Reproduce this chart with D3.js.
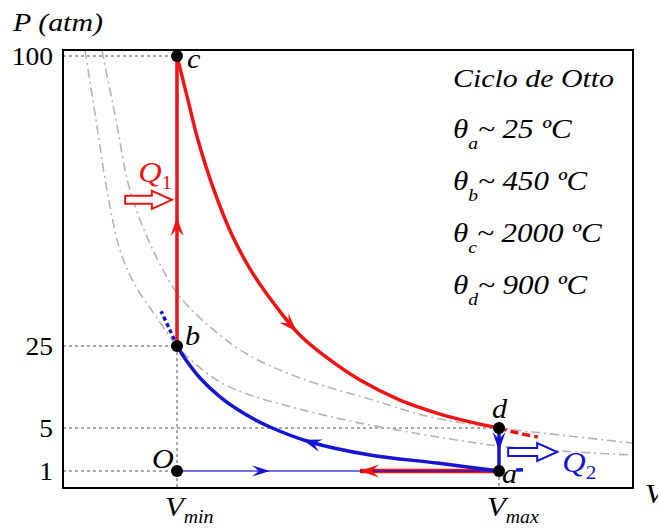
<!DOCTYPE html>
<html>
<head>
<meta charset="utf-8">
<script src="https://cdn.jsdelivr.net/npm/d3@7"></script>
<style>
  body { margin: 0; background: #fff; }
  text { font-family: "Liberation Serif", "Times New Roman", serif; }
</style>
</head>
<body>
<svg id="chart" width="658" height="530"></svg>
<script>
// ---- data (V in arbitrary units, P in atm) ----
var Vmin = 2, Vmax = 7.649;
var pTicks = [1, 5, 25, 100];
var pTickLabels = ["1", "5", "25", "100"];

var states = [
    { id: "O", v: 2, p: 1 },
    { id: "a", v: 7.649, p: 1 },
    { id: "b", v: 2, p: 25 },
    { id: "c", v: 2, p: 100 },
    { id: "d", v: 7.649, p: 5 }
];

// isochore b -> c (heat in)
var isochoreBC = [[2, 25], [2, 100]];
// adiabat c -> d (expansion)
var adiabatCD = [[2, 100], [2.193, 88.6], [2.368, 78.3], [2.649, 65.3], [2.965, 53.7], [3.316, 44.1],
    [3.719, 35.6], [4.158, 27.8], [4.684, 21.6], [5.211, 16.7], [5.912, 11.8], [6.614, 8.4],
    [7.14, 6.5], [7.649, 5]];
// isochore d -> a (heat out)
var isochoreDA = [[7.649, 5], [7.649, 1]];
// adiabat a -> b (compression)
var adiabatAB = [[7.649, 1], [6.561, 1.74], [5.386, 2.49], [4.333, 3.7], [3.632, 5.24], [3.193, 8.4],
    [2.754, 12.6], [2.404, 17.2], [2.158, 21.6], [2, 25]];
// isobar O -> a (intake) and a -> O (exhaust)
var isobarOA = [[2, 1], [7.649, 1]];
var isobarAO = [[7.649, 1], [5.21, 1]];

// dashed continuations
var extB = [[2, 25], [1.877, 29.1], [1.72, 34]];
var extD = [[7.649, 5], [7.98, 4.53], [8.33, 4.16]];
var extA = [[7.95, 1.1], [8.07, 1.12]];

// isotherms (grey dash-dot)
var isoThetaD = [[0.684, 101.5], [0.93, 83.4], [1.175, 65.3], [1.579, 49.8], [2.053, 37.7], [2.754, 27.8],
    [3.281, 22.6], [4.158, 17.2], [5.439, 11.8], [6.439, 7.7], [7.649, 5], [8.719, 4.35], [10, 3.6]];
var isoThetaB = [[0.386, 101.5], [0.579, 83.4], [0.772, 65.3], [1.0, 49.8], [1.263, 40.8], [1.614, 33.0],
    [2, 25], [2.228, 21.8], [2.754, 16.2], [3.281, 13.05], [4.211, 9.4], [5.035, 6.7], [5.965, 4.72],
    [6.789, 3.98], [7.649, 3.33], [9.298, 2.67], [10, 2.49]];

// direction arrows: which segment, along which axis, at which value
var arrowMarks = [
    { seg: "bc", axis: "P", at: 58.4 },
    { seg: "cd", axis: "V", at: 4.1 },
    { seg: "da", axis: "P", at: 2.86 },
    { seg: "ab", axis: "V", at: 4.21 },
    { seg: "oa", axis: "V", at: 3.63 },
    { seg: "ao", axis: "V", at: 5.21 }
];

// heat arrows
var heatIn = { v0: 1.09, v1: 1.91, p: 62.8 };
var heatOut = { v0: 7.81, v1: 8.67, p: 2.77 };

var thetaSub = ["a", "b", "c", "d"];
var thetaVal = ["25", "450", "2000", "900"];

// ---- layout ----
var RED = "#f01414", BLUE = "#1414d2", GREY = "#b4b4b4", DOT = "#8c8c8c";
var plotTop = 50, plotBottom = 488;
var svg = d3.select("#chart");

var xs = d3.scaleLinear().domain([0, 10]).range([63, 633]);
var ys = d3.scaleLinear().domain([1, 5, 25, 100]).range([471, 428, 346, 56]);

var line = d3.line()
    .x(function (d) { return xs(d[0]); })
    .y(function (d) { return ys(d[1]); });
var smooth = d3.line()
    .curve(d3.curveCatmullRom.alpha(0.5))
    .x(function (d) { return xs(d[0]); })
    .y(function (d) { return ys(d[1]); });

svg.append("clipPath").attr("id", "plot")
    .append("rect")
    .attr("x", xs.range()[0]).attr("y", plotTop)
    .attr("width", xs.range()[1] - xs.range()[0]).attr("height", plotBottom - plotTop);

// dotted reference lines
var grid = svg.append("g")
    .attr("stroke", DOT).attr("stroke-width", 1.5).attr("stroke-dasharray", "3,3").attr("fill", "none");
[["c", 100], ["b", 25], ["d", 5], ["O", 1]].forEach(function (r) {
    var s = states.filter(function (d) { return d.id === r[0]; })[0];
    grid.append("line")
        .attr("x1", xs.range()[0]).attr("x2", xs(s.v))
        .attr("y1", ys(r[1])).attr("y2", ys(r[1]));
});
grid.append("line").attr("x1", xs(Vmin)).attr("x2", xs(Vmin)).attr("y1", ys(25)).attr("y2", plotBottom);
grid.append("line").attr("x1", xs(Vmax)).attr("x2", xs(Vmax)).attr("y1", ys(1)).attr("y2", plotBottom);

// isotherms
var iso = svg.append("g").attr("clip-path", "url(#plot)");
[isoThetaD, isoThetaB].forEach(function (d) {
    iso.append("path")
        .attr("d", smooth(d))
        .attr("fill", "none")
        .attr("stroke", GREY)
        .attr("stroke-width", 1.6)
        .attr("stroke-dasharray", "9,4,2,4");
});

// cycle
var paths = {};
function seg(key, data, gen, color, width, opacity) {
    paths[key] = svg.append("path")
        .attr("d", gen(data))
        .attr("fill", "none")
        .attr("stroke", color)
        .attr("stroke-width", width)
        .attr("stroke-opacity", opacity || 1)
        .attr("stroke-linecap", "butt");
    return paths[key];
}
seg("ao", isobarAO, line, RED, 4.5);
seg("oa", isobarOA, line, BLUE, 2, 0.6);
seg("bc", isochoreBC, line, RED, 3.5);
seg("cd", adiabatCD, smooth, RED, 3.5);
seg("da", isochoreDA, line, BLUE, 3.5);
seg("ab", adiabatAB, smooth, BLUE, 3.5);

seg("eb", extB, smooth, BLUE, 3.5).attr("stroke-dasharray", "4,3");
seg("ed", extD, smooth, RED, 3.5).attr("stroke-dasharray", "8,4");
seg("ea", extA, line, BLUE, 3.5);

function locate(node, axis, value) {
    var total = node.getTotalLength(), best = 0, bestD = Infinity;
    var target = axis === "V" ? xs(value) : ys(value);
    for (var l = 0; l <= total; l += 0.5) {
        var pt = node.getPointAtLength(l);
        var dd = Math.abs((axis === "V" ? pt.x : pt.y) - target);
        if (dd < bestD) { bestD = dd; best = l; }
    }
    var tip = node.getPointAtLength(best),
        p0 = node.getPointAtLength(Math.max(0, best - 3)),
        p1 = node.getPointAtLength(Math.min(total, best + 3));
    return { x: tip.x, y: tip.y, ang: Math.atan2(p1.y - p0.y, p1.x - p0.x) * 180 / Math.PI };
}

function arrowHead(x, y, ang, color, len, half) {
    svg.append("path")
        .attr("d", "M0,0L" + (-len) + "," + (-half) + "L" + (-len * 0.62) + ",0L" + (-len) + "," + half + "Z")
        .attr("transform", "translate(" + x + "," + y + ") rotate(" + ang + ")")
        .attr("fill", color);
}

arrowMarks.forEach(function (m) {
    var node = paths[m.seg].node();
    var loc = locate(node, m.axis, m.at);
    var color = paths[m.seg].attr("stroke");
    var small = m.seg === "oa";
    arrowHead(loc.x, loc.y, loc.ang, color, small ? 18 : 19, small ? 5.5 : 6.5);
});

// state points
svg.append("g").selectAll("circle")
    .data(states)
    .enter()
    .append("circle")
    .attr("cx", function (d) { return xs(d.v); })
    .attr("cy", function (d) { return ys(d.p); })
    .attr("r", 6)
    .attr("fill", "#000");

var labelOffset = { O: [-25, -3], a: [3, 12], b: [8, -1], c: [10, 12], d: [-7, -10] };
svg.append("g").selectAll("text")
    .data(states)
    .enter()
    .append("text")
    .attr("transform", function (d) {
        var o = labelOffset[d.id];
        return "translate(" + (xs(d.v) + o[0]) + "," + (ys(d.p) + o[1]) + ") scale(1.12,1)";
    })
    .attr("font-size", 27)
    .attr("font-style", "italic")
    .text(function (d) { return d.id; });

// frame
svg.append("rect")
    .attr("x", xs.range()[0]).attr("y", plotTop)
    .attr("width", xs.range()[1] - xs.range()[0]).attr("height", plotBottom - plotTop)
    .attr("fill", "none").attr("stroke", "#000").attr("stroke-width", 2);

// heat arrows
function heatArrow(h, color) {
    var x0 = xs(h.v0), x1 = xs(h.v1), y = ys(h.p), head = 20, sh = 4, hh = 9;
    svg.append("path")
        .attr("d", "M" + x0 + "," + (y - sh) + "L" + (x1 - head) + "," + (y - sh) + "L" + (x1 - head) + "," + (y - hh) +
            "L" + x1 + "," + y + "L" + (x1 - head) + "," + (y + hh) + "L" + (x1 - head) + "," + (y + sh) +
            "L" + x0 + "," + (y + sh) + "Z")
        .attr("fill", "#fff").attr("stroke", color).attr("stroke-width", 2);
}
heatArrow(heatIn, RED);
heatArrow(heatOut, BLUE);

function qLabel(x, y, sub, color) {
    var t = svg.append("text")
        .attr("transform", "translate(" + x + "," + y + ") scale(1.12,1)")
        .attr("fill", color).attr("font-size", 29);
    t.append("tspan").attr("font-style", "italic").text("Q");
    t.append("tspan").attr("dy", 7).attr("font-size", 19).text(sub);
}
qLabel(xs(heatIn.v0) + 13, ys(heatIn.p) - 18, "1", RED);
qLabel(xs(heatOut.v1) + 5, ys(heatOut.p) + 20, "2", BLUE);

// axis labels
svg.append("text")
    .attr("transform", "translate(13,31) scale(1.15,1)")
    .attr("font-size", 26).attr("font-style", "italic")
    .text("P (atm)");

svg.append("g").selectAll("text")
    .data(pTicks)
    .enter()
    .append("text")
    .attr("transform", function (d) { return "translate(53," + (ys(d) + 9) + ") scale(1.1,1)"; })
    .attr("text-anchor", "end")
    .attr("font-size", 25)
    .text(function (d, i) { return pTickLabels[i]; });

[[Vmin, "min"], [Vmax, "max"]].forEach(function (v) {
    var t = svg.append("text")
        .attr("transform", "translate(" + (xs(v[0]) - 12) + ",516) scale(1.1,1)")
        .attr("font-size", 28).attr("font-style", "italic");
    t.append("tspan").text("V");
    t.append("tspan").attr("dy", 7).attr("font-size", 18).text(v[1]);
});
svg.append("text")
    .attr("transform", "translate(645,503) scale(1.1,1)")
    .attr("font-size", 28).attr("font-style", "italic")
    .text("V");

// info block
svg.append("text")
    .attr("transform", "translate(453,87) scale(1.15,1)")
    .attr("font-size", 26).attr("font-style", "italic")
    .text("Ciclo de Otto");
thetaSub.forEach(function (s, i) {
    var t = svg.append("text")
        .attr("transform", "translate(453," + (138 + i * 52) + ") scale(1.15,1)")
        .attr("font-size", 27).attr("font-style", "italic");
    t.append("tspan").text("\u03b8");
    t.append("tspan").attr("dy", 11).attr("font-size", 17).text(s);
    t.append("tspan").attr("dy", -11).text("~ " + thetaVal[i] + " \u00baC");
});
</script>
</body>
</html>
